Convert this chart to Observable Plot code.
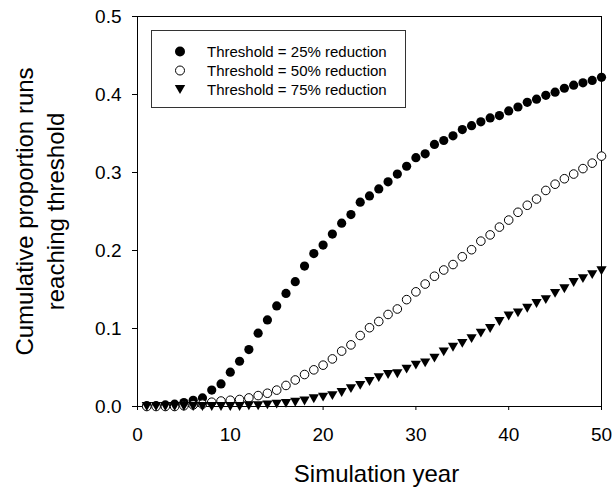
<!DOCTYPE html>
<html><head><meta charset="utf-8">
<script src="https://cdn.jsdelivr.net/npm/d3@7"></script>
<script src="https://cdn.jsdelivr.net/npm/@observablehq/plot@0.6"></script>
<style>
html,body{margin:0;padding:0;background:#fff;overflow:hidden}
#wrap{position:relative;width:613px;height:488px;font-family:"Liberation Sans",Arial,sans-serif}
#legend{position:absolute;left:151px;top:30px;width:255px;height:78px;border:1px solid #333;box-sizing:border-box;background:#fff}
.row{position:absolute;left:0;height:19px;width:250px;font-size:15px;color:#000}
.row svg{position:absolute;left:19px;top:0}
.row span{position:absolute;left:55px;top:0;line-height:19px;white-space:nowrap}
</style></head><body><div id="wrap"></div>
<script>
const years = [1,2,3,4,5,6,7,8,9,10,11,12,13,14,15,16,17,18,19,20,21,22,23,24,25,26,27,28,29,30,31,32,33,34,35,36,37,38,39,40,41,42,43,44,45,46,47,48,49,50];
const s25 = [0.001,0.001,0.002,0.003,0.005,0.008,0.011,0.021,0.029,0.044,0.058,0.073,0.094,0.111,0.129,0.145,0.160,0.180,0.196,0.207,0.221,0.235,0.246,0.262,0.270,0.279,0.288,0.298,0.308,0.319,0.324,0.336,0.341,0.347,0.355,0.360,0.365,0.370,0.373,0.379,0.384,0.390,0.394,0.399,0.403,0.408,0.412,0.415,0.418,0.422];
const s50 = [0,0,0,0,0.001,0.002,0.003,0.0055,0.007,0.008,0.009,0.011,0.014,0.017,0.021,0.027,0.034,0.041,0.047,0.053,0.061,0.071,0.079,0.091,0.101,0.109,0.118,0.125,0.137,0.147,0.157,0.167,0.175,0.182,0.192,0.201,0.212,0.220,0.230,0.239,0.249,0.258,0.266,0.277,0.285,0.292,0.298,0.305,0.312,0.321];
const s75 = [0,0,0,0,0,0,0,0,0,0,0,0.001,0.001,0.002,0.003,0.004,0.0055,0.007,0.010,0.012,0.014,0.018,0.023,0.027,0.032,0.037,0.041,0.042,0.048,0.053,0.056,0.062,0.070,0.076,0.081,0.087,0.094,0.100,0.109,0.116,0.120,0.126,0.132,0.137,0.145,0.151,0.159,0.164,0.169,0.174];
const seriesNames = ["Threshold = 25% reduction","Threshold = 50% reduction","Threshold = 75% reduction"];
const xTicks = [0,10,20,30,40,50];
const yTicks = [0,0.1,0.2,0.3,0.4,0.5];
const xLabel = "Simulation year";
const yLabel = "Cumulative proportion runs\nreaching threshold";

const triDown = {draw(ctx, size){
  const s = Math.sqrt(size*4/Math.sqrt(3)); const h = s*Math.sqrt(3)/2;
  ctx.moveTo(-s/2,-h/2); ctx.lineTo(s/2,-h/2); ctx.lineTo(0,h/2); ctx.closePath();
}};

const d25 = years.map((x,i)=>({x, y:s25[i]}));
const d50 = years.map((x,i)=>({x, y:s50[i]}));
const d75 = years.map((x,i)=>({x, y:s75[i]}));

const chart = Plot.plot({
  width: 613, height: 488,
  marginLeft: 137, marginRight: 12, marginTop: 16, marginBottom: 82,
  x: {domain:[0,50]},
  y: {domain:[0,0.5]},
  style: {fontFamily:'"Liberation Sans", Arial, sans-serif', fontSize:"19px", color:"black", background:"white", overflow:"visible"},
  marks: [
    Plot.axisX({ticks:xTicks, tickSize:4, tickPadding:17, label:null, fontSize:19}),
    Plot.axisY({ticks:yTicks, tickSize:5, tickPadding:11, tickFormat:d3.format(".1f"), label:null, fontSize:19}),
    Plot.frame({stroke:"black"}),
    Plot.dot(d25, {x:"x", y:"y", r:4.6, fill:"black", stroke:"none"}),
    Plot.dot(d50, {x:"x", y:"y", r:4.3, fill:"white", stroke:"black", strokeWidth:1}),
    Plot.dot(d75, {x:"x", y:"y", r:3.8, symbol:triDown, fill:"black", stroke:"none"}),
    Plot.text([xLabel], {text:d=>d, frameAnchor:"bottom", dx:7, dy:68, fontSize:24, lineAnchor:"middle", textAnchor:"middle"}),
    Plot.text([yLabel], {text:d=>d, frameAnchor:"left", rotate:-90, dx:-99, fontSize:24, lineHeight:1.3, lineAnchor:"middle", textAnchor:"middle"})
  ]
});
const wrap = document.getElementById("wrap");
wrap.appendChild(chart);

const leg = document.createElement("div");
leg.id = "legend";
const syms = [
  '<circle cx="9" cy="9.5" r="5" fill="black"/>',
  '<circle cx="9" cy="9.5" r="4.5" fill="white" stroke="black" stroke-width="1"/>',
  '<path d="M3.8,5 L14.2,5 L9,14 Z" fill="black"/>'
];
seriesNames.forEach((name,i)=>{
  const row = document.createElement("div");
  row.className = "row";
  row.style.top = (11 + i*19) + "px";
  row.innerHTML = `<svg width="18" height="19">${syms[i]}</svg><span>${name}</span>`;
  leg.appendChild(row);
});
wrap.appendChild(leg);
</script>
</body></html>
